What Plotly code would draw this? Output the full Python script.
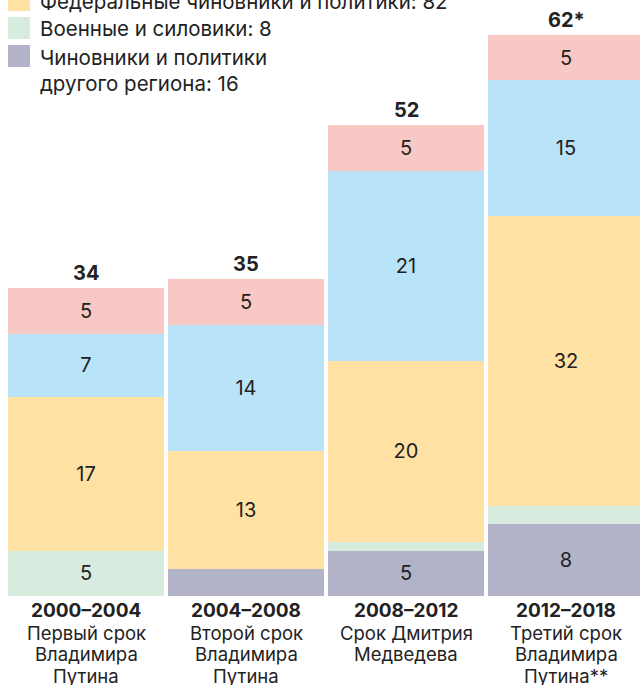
import plotly.graph_objects as go

# ---- data ----
periods = ["2000–2004", "2004–2008", "2008–2012", "2012–2018"]
period_desc = [["Первый срок", "Владимира", "Путина"],
               ["Второй срок", "Владимира", "Путина"],
               ["Срок Дмитрия", "Медведева"],
               ["Третий срок", "Владимира", "Путина**"]]
other_region = [0, 3, 5, 8]      # Чиновники и политики другого региона
military = [5, 0, 1, 2]          # Военные и силовики
federal = [17, 13, 20, 32]       # Федеральные чиновники и политики
blue_group = [7, 14, 21, 15]
pink_group = [5, 5, 5, 5]
total_suffix = ["", "", "", "*"]

legend_labels = ["Федеральные чиновники и политики: 82",
                 "Военные и силовики: 8",
                 "Чиновники и политики<br>другого региона: 16"]

# ---- style ----
FONT = "Inter"
TXT = "#222222"
W, H = 640, 685
PLOT_BOTTOM = 596  # px
C_PURPLE, C_GREEN, C_YELLOW, C_BLUE, C_PINK = "#B2B3C9", "#D7ECDE", "#FEE1A3", "#B9E3F8", "#F8C8C4"

series = [
    (other_region, C_PURPLE),
    (military, C_GREEN),
    (federal, C_YELLOW),
    (blue_group, C_BLUE),
    (pink_group, C_PINK),
]
legend_colors = [C_YELLOW, C_GREEN, C_PURPLE]

fig = go.Figure()
for vals, col in series:
    fig.add_trace(go.Bar(
        x=periods, y=vals,
        marker=dict(color=col, line=dict(width=0)),
        text=[str(v) if v >= 5 else "" for v in vals],
        textposition="inside", insidetextanchor="middle",
        textangle=0, constraintext="none",
        textfont=dict(family=FONT, size=20, color=TXT),
        hoverinfo="skip", showlegend=False,
    ))

totals = [sum(s[0][i] for s in series) for i in range(len(periods))]
for i, p in enumerate(periods):
    fig.add_annotation(x=p, y=totals[i], xref="x", yref="y",
                       text=f"<b>{totals[i]}{total_suffix[i]}</b>",
                       showarrow=False, yanchor="bottom", yshift=1,
                       font=dict(family=FONT, size=20, color=TXT))

def py(px):
    return (PLOT_BOTTOM - px) / PLOT_BOTTOM

# category labels under bars
label_y = [610.5, 632.5, 654, 675.5]
for i, p in enumerate(periods):
    lines = [f"<b>{p}</b>"] + period_desc[i]
    for k, ln in enumerate(lines):
        fig.add_annotation(x=p, y=py(label_y[k]), xref="x", yref="paper",
                           text=ln, showarrow=False, xanchor="center", yanchor="middle",
                           font=dict(family=FONT, size=19 if k == 0 else 18.5, color=TXT))

# legend (manual)
centers = [0, 28, 56]
for label, col, c in zip(legend_labels, legend_colors, centers):
    fig.add_shape(type="rect", xref="paper", yref="paper",
                  x0=8 / W, x1=30 / W, y0=py(c + 11), y1=py(c - 11),
                  fillcolor=col, line=dict(width=0))
    for k, ln in enumerate(label.split("<br>")):
        fig.add_annotation(x=38 / W, y=py(c + 1 + 26 * k), xref="paper", yref="paper",
                           text=ln, showarrow=False, xanchor="left", yanchor="middle",
                           font=dict(family=FONT, size=20.5, color=TXT))

scale = 9.05
fig.update_layout(
    width=W, height=H,
    margin=dict(l=0, r=0, t=0, b=H - PLOT_BOTTOM, autoexpand=False),
    barmode="stack", bargap=0.025,
    plot_bgcolor="white", paper_bgcolor="white",
    xaxis=dict(range=[-0.5375, 3.4625], showticklabels=False,
               showgrid=False, zeroline=False, showline=False, ticks=""),
    yaxis=dict(range=[0, PLOT_BOTTOM / scale], visible=False),
    font=dict(family=FONT, color=TXT),
)

fig.write_html("out.html", config={"displayModeBar": False},
               post_script="document.body.style.margin='0';document.body.style.overflow='hidden';")
